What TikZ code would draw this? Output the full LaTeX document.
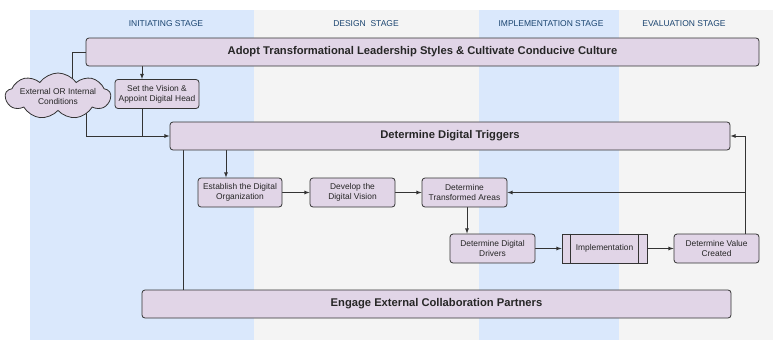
\documentclass[tikz,border=0pt]{standalone}
\usepackage{fontspec}
\setmainfont{Liberation Sans}
\usepackage{tikz}
\usetikzlibrary{arrows, shapes, shapes.symbols, calc}

\definecolor{stageblue}{HTML}{DAE8FC}
\definecolor{stagegray}{HTML}{F4F4F4}
\definecolor{boxfill}{HTML}{E1D5E7}
\definecolor{boxline}{HTML}{333333}
\definecolor{stagetext}{HTML}{1A4470}

\pgfdeclarelayer{bg}
\pgfdeclarelayer{lines}
\pgfsetlayers{bg,lines,main}

\tikzset{
	box/.style={rectangle, rounded corners=3pt, draw=boxline, fill=boxfill, line width=0.8pt, minimum width=84pt, minimum height=29pt, inner sep=0pt, align=center, text=black!85, font=\fontsize{8.4}{10}\selectfont},
	bigbox/.style={box, minimum height=28pt, font=\fontsize{11.2}{13}\selectfont\bfseries},
	stagetitle/.style={text=stagetext, font=\fontsize{8.5}{10}\selectfont},
	verbindung/.style={draw=boxline, line width=0.8pt}
}

\begin{document}
\begin{tikzpicture}[>=latex, x=1pt, y=-1pt]
	
	\useasboundingbox (0,0) rectangle (773,340);
	
	% Spalten der Phasen
	\begin{pgfonlayer}{bg}
		\fill[stageblue] (30,10) rectangle (254,340);
		\fill[stagegray] (254,10) rectangle (479,340);
		\fill[stageblue] (479,10) rectangle (619,340);
		\fill[stagegray] (619,10) rectangle (773,340);
	\end{pgfonlayer}
	
	\node[stagetitle](s1) at (166,24) {INITIATING STAGE};
	\node[stagetitle](s2) at (366,24) {DESIGN\ \ STAGE};
	\node[stagetitle](s3) at (551,24) {IMPLEMENTATION STAGE};
	\node[stagetitle](s4) at (684,24) {EVALUATION STAGE};
	
	% Balken
	\node[bigbox, minimum width=673pt](adopt) at (422.5,52) {Adopt Transformational Leadership Styles \& Cultivate Conducive Culture};
	\node[bigbox, minimum width=560pt](ddt) at (450,136) {Determine Digital Triggers};
	\node[bigbox, minimum width=589pt](engage) at (436.5,304) {Engage External Collaboration Partners};
	
	% Wolke
	\node[cloud, cloud puffs=9, cloud puff arc=110, cloud ignores aspect, draw=boxline, fill=boxfill, line width=0.8pt, minimum width=102pt, minimum height=46pt, inner sep=0pt, align=center, text=black!85, font=\fontsize{8.4}{10}\selectfont](cloud) at (58,96) {External OR Internal\\Conditions};
	
	% Kaesten
	\node[box](setv) at (157,94) {Set the Vision \&\\Appoint Digital Head};
	\node[box](est) at (240,192.5) {Establish the Digital\\Organization};
	\node[box, minimum width=85pt](dev) at (352.5,192.5) {Develop the\\Digital Vision};
	\node[box, minimum width=85pt](dta) at (464.5,192.5) {Determine\\Transformed Areas};
	\node[box, minimum width=85pt](ddd) at (492.5,248.5) {Determine Digital\\Drivers};
	\node[box, rounded corners=0pt, minimum width=85pt](impl) at (604.5,248.5) {Implementation};
	\node[box, minimum width=85pt](dvc) at (716.5,248.5) {Determine Value\\Created};
	
	\draw[verbindung] ([xshift=9pt]impl.north west) -- ([xshift=9pt]impl.south west);
	\draw[verbindung] ([xshift=-9pt]impl.north east) -- ([xshift=-9pt]impl.south east);
	
	% Verbindungen
	\begin{pgfonlayer}{lines}
		\draw[verbindung] (adopt.west) -| ([xshift=14pt]cloud.center);
		\draw[verbindung, ->] ([xshift=28pt]cloud.center) |- (ddt.west);
		\draw[verbindung] ([xshift=-15pt]setv.south) -- ([xshift=-15pt]setv.south |- ddt.west);
		\draw[verbindung, ->] ([xshift=-15pt]setv.north |- adopt.south) -- ([xshift=-15pt]setv.north);
		
		\draw[verbindung] ([xshift=14pt]ddt.south west) -- ([xshift=14pt]ddt.south west |- engage.north);
		\draw[verbindung, ->] ([xshift=-14pt]est.north |- ddt.south) -- ([xshift=-14pt]est.north);
		
		\draw[verbindung, ->] (est.east) -- (dev.west);
		\draw[verbindung, ->] (dev.east) -- (dta.west);
		\draw[verbindung, ->] ([xshift=2.5pt]dta.south) -- ([xshift=2.5pt]dta.south |- ddd.north);
		\draw[verbindung, ->] (ddd.east) -- (impl.west);
		\draw[verbindung, ->] (impl.east) -- (dvc.west);
		
		% Rueckfuehrung
		\draw[verbindung, ->] ([xshift=28.5pt]dvc.north) |- (ddt.east);
		\draw[verbindung, ->] ([xshift=28.5pt]dvc.north |- dta.east) -- (dta.east);
	\end{pgfonlayer}
\end{tikzpicture}
\end{document}
